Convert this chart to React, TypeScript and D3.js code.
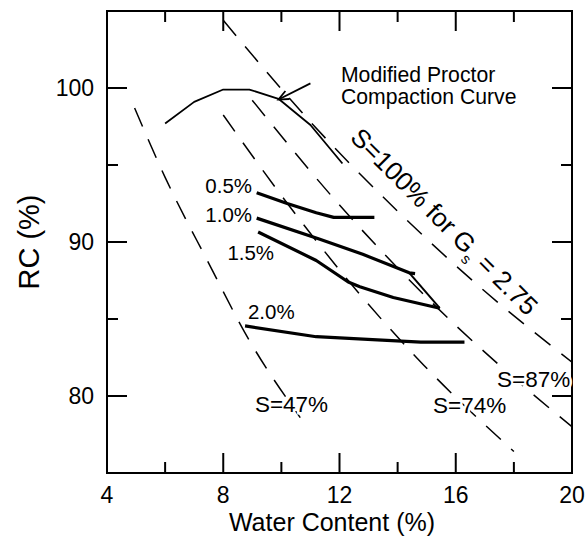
import React from 'react';
import * as d3 from 'd3';

const W = 585;
const H = 542;
const M = { left: 107, right: 13, top: 11, bottom: 69 };

const xDomain: [number, number] = [4, 20];
const yDomain: [number, number] = [75, 105];
const xLabelTicks = [4, 8, 12, 16, 20];
const xMajorTicks = [8, 12, 16];
const xMinorTicks = [6, 10, 14, 18];
const yLabelTicks = [80, 90, 100];
const yMinorTicks = [85, 95];

// Modified Proctor compaction curve: water content (%) vs RC (%)
const proctorW = [6.0, 7.0, 8.0, 8.9, 9.9, 11.0, 12.1];
const proctorRC = [97.7, 99.1, 99.9, 99.9, 99.3, 97.6, 95.1];

// Measured curves for each additive content
const c05W = [9.15, 10.2, 11.2, 11.8, 13.2];
const c05RC = [93.2, 92.5, 91.9, 91.6, 91.6];
const c10W = [9.15, 11.3, 12.8, 14.4, 14.6];
const c10RC = [91.55, 90.2, 89.2, 88.0, 87.95];
const c15W = [9.2, 11.2, 12.3, 12.7, 13.85, 15.45];
const c15RC = [90.65, 88.8, 87.4, 87.1, 86.4, 85.7];
const c20W = [8.75, 11.2, 13.3, 14.8, 16.3];
const c20RC = [84.55, 83.85, 83.65, 83.5, 83.5];
const tieW = [14.4, 15.45];
const tieRC = [88.0, 85.7];

// Degree-of-saturation lines (Gs = 2.75)
const s100W = [8.0, 11.0, 14.0, 17.0, 20.0];
const s100RC = [104.4, 97.8, 92.0, 86.8, 82.2];
const s87W = [9.0, 12.0, 15.0, 17.5, 20.0];
const s87RC = [99.2, 92.4, 86.4, 82.0, 78.0];
const s74W = [8.0, 9.85, 12.3, 14.9, 18.0];
const s74RC = [98.25, 93.4, 87.5, 82.0, 76.4];
const s47W = [4.95, 6.0, 7.45, 8.9, 10.65];
const s47RC = [98.7, 94.2, 88.8, 83.6, 78.6];

const curveLabels = ['0.5%', '1.0%', '1.5%', '2.0%'];
const curveLabelW = [8.99, 8.99, 9.75, 8.85];
const curveLabelRC = [93.18, 91.3, 88.83, 85.0];
const curveLabelAnchor = ['end', 'end', 'end', 'start'];

const satLabels = ['S=47%', 'S=74%', 'S=87%'];
const satLabelW = [9.09, 15.22, 17.42];
const satLabelRC = [78.96, 78.9, 80.58];

const FONT = '"Liberation Sans", Arial, Helvetica, sans-serif';

const zip = (xs: number[], ys: number[]) => xs.map((x, i) => [x, ys[i]] as [number, number]);

export default function App() {
  const x = d3.scaleLinear().domain(xDomain).range([M.left, W - M.right]);
  const y = d3.scaleLinear().domain(yDomain).range([H - M.bottom, M.top]);
  const lin = d3.line<[number, number]>().x(d => x(d[0])).y(d => y(d[1]));
  const smooth = d3
    .line<[number, number]>()
    .x(d => x(d[0]))
    .y(d => y(d[1]))
    .curve(d3.curveMonotoneX);

  const x0 = x(xDomain[0]);
  const x1 = x(xDomain[1]);
  const y0 = y(yDomain[0]);
  const y1 = y(yDomain[1]);
  const major = 20;
  const minor = 11;

  const dashed = [
    zip(s100W, s100RC),
    zip(s87W, s87RC),
    zip(s74W, s74RC),
    zip(s47W, s47RC),
  ];
  const thick = [zip(c05W, c05RC), zip(c10W, c10RC), zip(c15W, c15RC), zip(c20W, c20RC)];

  // arrow to the compaction curve
  const arrowFrom: [number, number] = [11.0, 100.3];
  const arrowTo: [number, number] = [9.9, 99.25];
  const ax0 = x(arrowFrom[0]);
  const ay0 = y(arrowFrom[1]);
  const ax1 = x(arrowTo[0]);
  const ay1 = y(arrowTo[1]);
  const ang = Math.atan2(ay1 - ay0, ax1 - ax0);
  const head = 11;
  const spread = 0.42;
  const hA = [ax1 - head * Math.cos(ang - spread), ay1 - head * Math.sin(ang - spread)];
  const hB = [ax1 - head * Math.cos(ang + spread), ay1 - head * Math.sin(ang + spread)];

  const rotX = 349;
  const rotY = 139;

  return (
    <svg
      width={W}
      height={H}
      style={{ position: 'absolute', left: 0, top: 0, background: '#fff' }}
      fontFamily={FONT}
    >
      <defs>
        <clipPath id="plot-area">
          <rect x={x0} y={y1} width={x1 - x0} height={y0 - y1} />
        </clipPath>
      </defs>
      <rect x={0} y={0} width={W} height={H} fill="#fff" />

      {/* saturation lines */}
      <g
        fill="none"
        stroke="#000"
        strokeWidth={1.5}
        strokeDasharray="20,14"
        clipPath="url(#plot-area)"
      >
        {dashed.map((d, i) => (
          <path key={i} d={smooth(d) || ''} />
        ))}
      </g>

      {/* compaction curve */}
      <path
        d={lin(zip(proctorW, proctorRC)) || ''}
        fill="none"
        stroke="#000"
        strokeWidth={1.8}
        strokeLinejoin="round"
      />

      {/* measured curves */}
      <g fill="none" stroke="#000" strokeWidth={3.2} strokeLinejoin="round">
        {thick.map((d, i) => (
          <path key={i} d={lin(d) || ''} />
        ))}
      </g>
      <path d={lin(zip(tieW, tieRC)) || ''} fill="none" stroke="#000" strokeWidth={2} />

      {/* arrow */}
      <g stroke="#000" strokeWidth={1.8} fill="none">
        <line x1={ax0} y1={ay0} x2={ax1} y2={ay1} />
        <path d={`M${hA[0]},${hA[1]}L${ax1},${ay1}L${hB[0]},${hB[1]}`} />
      </g>

      {/* frame */}
      <rect x={x0} y={y1} width={x1 - x0} height={y0 - y1} fill="none" stroke="#000" strokeWidth={2} />

      {/* ticks */}
      <g stroke="#000" strokeWidth={2}>
        {xMajorTicks.map(t => (
          <g key={'xm' + t}>
            <line x1={x(t)} x2={x(t)} y1={y0} y2={y0 - major} />
            <line x1={x(t)} x2={x(t)} y1={y1} y2={y1 + major} />
          </g>
        ))}
        {xMinorTicks.map(t => (
          <g key={'xn' + t}>
            <line x1={x(t)} x2={x(t)} y1={y0} y2={y0 - minor} />
            <line x1={x(t)} x2={x(t)} y1={y1} y2={y1 + minor} />
          </g>
        ))}
        {yLabelTicks.map(t => (
          <g key={'ym' + t}>
            <line x1={x0} x2={x0 + major} y1={y(t)} y2={y(t)} />
            <line x1={x1} x2={x1 - major} y1={y(t)} y2={y(t)} />
          </g>
        ))}
        {yMinorTicks.map(t => (
          <g key={'yn' + t}>
            <line x1={x0} x2={x0 + minor} y1={y(t)} y2={y(t)} />
            <line x1={x1} x2={x1 - minor} y1={y(t)} y2={y(t)} />
          </g>
        ))}
      </g>

      {/* tick labels */}
      <g fontSize={23} fill="#000">
        {xLabelTicks.map(t => (
          <text key={'xl' + t} x={x(t)} y={y0 + 30} textAnchor="middle">
            {t}
          </text>
        ))}
        {yLabelTicks.map(t => (
          <text key={'yl' + t} x={x0 - 13} y={y(t)} dy="0.35em" textAnchor="end">
            {t}
          </text>
        ))}
      </g>

      {/* axis titles */}
      <text x={332} y={H - 11} textAnchor="middle" fontSize={25}>
        Water Content (%)
      </text>
      <text
        transform={`translate(39,${(y0 + y1) / 2}) rotate(-90)`}
        textAnchor="middle"
        fontSize={29}
      >
        RC (%)
      </text>

      {/* curve labels */}
      <g fontSize={20.5}>
        {curveLabels.map((t, i) => (
          <text key={t} x={x(curveLabelW[i])} y={y(curveLabelRC[i])} textAnchor={curveLabelAnchor[i] as any}>
            {t}
          </text>
        ))}
      </g>

      {/* saturation labels */}
      <g fontSize={22.5} stroke="#fff" strokeWidth={5} paintOrder="stroke" fill="#000">
        {satLabels.map((t, i) => (
          <text key={t} x={x(satLabelW[i])} y={y(satLabelRC[i])}>
            {t}
          </text>
        ))}
      </g>

      <text
        transform={`translate(${rotX},${rotY}) rotate(45)`}
        fontSize={26}
        stroke="#fff"
        strokeWidth={4}
        paintOrder="stroke"
        style={{ whiteSpace: 'pre' }}
      >
        S=100% for G<tspan fontSize={15} dy={7}>s</tspan>
        <tspan dy={-7}> = 2.75</tspan>
      </text>

      {/* annotation */}
      <g fontSize={21.2}>
        <text x={x(12.05)} y={y(100.4)}>Modified Proctor</text>
        <text x={x(12.05)} y={y(98.96)}>Compaction Curve</text>
      </g>
    </svg>
  );
}
